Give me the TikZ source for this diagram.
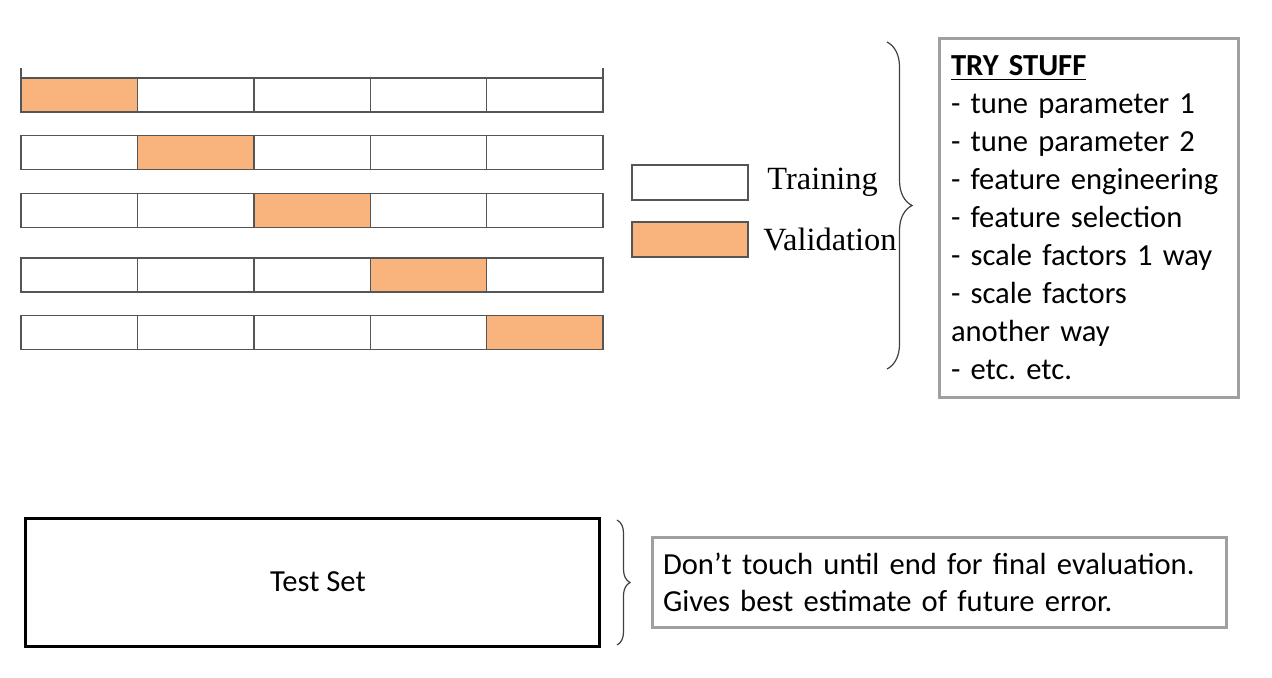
\documentclass[tikz,border=0pt]{standalone}
\usepackage{fontspec}
\setmainfont{Carlito}
\newfontfamily\legfont{Liberation Serif}
\usetikzlibrary{positioning,decorations.pathreplacing}
\definecolor{valorange}{HTML}{F8B47C}
\definecolor{celledge}{HTML}{555555}
\definecolor{boxgray}{HTML}{A0A0A0}
\frenchspacing

\begin{document}
\begin{tikzpicture}[x=0.5pt, y=-0.5pt,
  cell/.style={draw=celledge, line width=0.7pt, fill=white, minimum width=58.2pt,
    minimum height=17pt, inner sep=0pt, outer sep=0pt},
  legtext/.style={font=\legfont\fontsize{16.2}{19}\selectfont, inner sep=0pt},
  notebox/.style={draw=boxgray, line width=1.5pt, align=left, anchor=north west,
    font=\fontsize{15.3}{19}\selectfont},
  bracket/.style={decorate, decoration={brace, amplitude=#1}, draw=black!75, line width=0.6pt}]
\useasboundingbox (0,0) rectangle (1272,678);

% folds
\foreach \row/\ypos in {1/95, 2/152.5, 3/210.5, 4/275, 5/332.5}
  \foreach \col in {1,...,5}{
    \ifnum\col=\row \def\cfill{valorange}\else\def\cfill{white}\fi
    \node[cell, fill=\cfill] (c\row\col) at ({21+116.4*(\col-0.5)}, \ypos) {};
  }
\draw[celledge, line width=0.7pt] (c11.north west) -- ++(0,-10);
\draw[celledge, line width=0.7pt] (c15.north east) -- ++(0,-10);

% legend
\node[cell, minimum width=58pt, minimum height=17.5pt] (legtrain) at (690,182.5) {};
\node[cell, fill=valorange, minimum width=58pt, minimum height=17.5pt] (legval) at (690,239.5) {};
\node[legtext, right=9.5pt of legtrain] (trainlabel) {Training};
\node[legtext, right=7.5pt of legval] (vallabel) {Validation};

% try stuff
\coordinate (bigtop) at (887,42);
\coordinate (bigbot) at (887,369);
\draw[bracket=12.5pt] (bigtop) -- (bigbot);
\node[notebox, inner xsep=5.75pt, text width=138pt, minimum height=179.5pt] (trybox) at (938,37)
  {\underline{\textbf{TRY STUFF}}\\
   - tune parameter 1\\
   - tune parameter 2\\
   - feature engineering\\
   - feature selection\\
   - scale factors 1 way\\
   - scale factors\\
   another way\\
   - etc. etc.};

% test set
\node[draw=black, line width=1.5pt, minimum width=287pt, minimum height=64pt,
  font=\fontsize{15.3}{19}\selectfont] (testset) at (312,582) {\hspace*{6pt}Test Set};
\coordinate (smalltop) at (617,520);
\coordinate (smallbot) at (617,645);
\draw[bracket=6.5pt] (smalltop) -- (smallbot);
\node[notebox, inner xsep=5.25pt, text width=276.5pt, minimum height=45pt,
  font=\fontsize{15.3}{18.5}\selectfont] (endbox) at (651,536)
  {Don’t touch until end for final evaluation.\\
   Gives best estimate of future error.};
\end{tikzpicture}
\end{document}
